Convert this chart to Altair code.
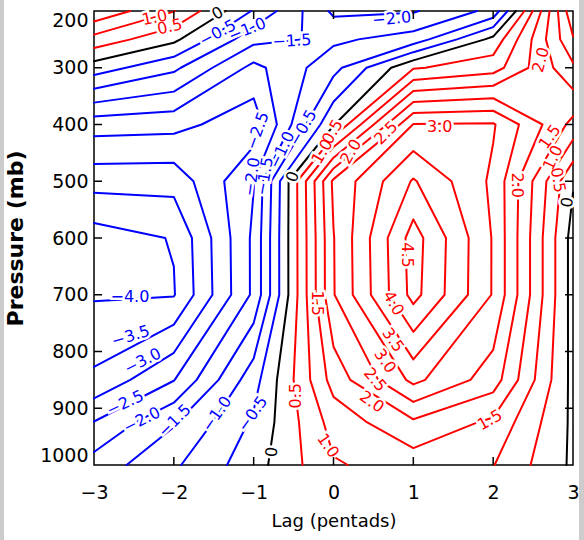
import altair as alt
import numpy as np
import pandas as pd

# ---------------- data ----------------
lags = [-3, -2, -1, 0, 1, 2, 3]
pressures = [1000, 925, 850, 700, 600, 500, 400, 300, 250, 200]

# field value at each pressure level, for lags -3 .. 3
z1000 = [-1.79, -1.08, -0.21, 0.95, 1.23, 1.02, -0.09]
z925 = [-2.48, -1.55, -0.42, 1.20, 1.91, 1.40, -0.10]
z850 = [-3.40, -2.52, -0.70, 1.70, 3.13, 2.25, -0.15]
z700 = [-4.05, -4.03, -1.90, 2.47, 4.67, 2.96, -0.20]
z600 = [-4.25, -3.97, -1.90, 2.48, 4.72, 2.96, -0.20]
z500 = [-3.31, -3.32, -2.02, 2.60, 4.05, 2.90, 0.05]
z400 = [-2.29, -2.34, -2.80, -0.05, 3.02, 3.05, 1.35]
z300 = [-0.24, -0.89, -2.15, -1.17, 0.45, 0.78, 2.40]
z250 = [0.82, 0.12, -1.35, -1.60, -1.28, 0.15, 2.95]
z200 = [1.90, 1.02, -0.55, -2.10, -2.05, -1.36, 3.40]

levels = [-4.0, -3.5, -3.0, -2.5, -2.0, -1.5, -1.0, -0.5, 0.0,
          0.5, 1.0, 1.5, 2.0, 2.5, 3.0, 3.5, 4.0, 4.5]

# contour labels (text, lag, pressure, angle)
lab_text = ["−0.5", "−1.0", "−1.5", "−2.0", "−2.5", "−2.0", "−1.5", "−1.0", "−0.5",
            "−4.0", "−3.5", "−3.0", "−2.5", "−2.0", "−1.5", "−1.0", "−0.5",
            "0", "0", "0", "0",
            "1.0", "0.5", "0.5", "1.0", "2.0", "2.5", "3.0", "2.0", "1.5", "1.0", "0.5",
            "2.0", "4.5", "4.0", "3.5", "3.0", "2.5", "2.0", "1.5", "0.5", "1.0", "1.5"]
lab_lag = [-1.45, -1.08, -0.52, 0.73, -0.95, -1.02, -0.86, -0.645, -0.38,
           -2.55, -2.54, -2.39, -2.61, -2.40, -1.99, -1.46, -1.01,
           -1.45, -0.51, -0.77, 2.93,
           -2.24, -2.05, -0.01, -0.14, 0.22, 0.66, 1.33, 2.60, 2.71, 2.75, 2.81,
           2.30, 0.92, 0.75, 0.745, 0.645, 0.52, 0.48, -0.21, -0.47, -0.07, 1.96]
lab_p = [239, 233, 253, 214, 411, 492, 491, 445, 406,
         704, 773, 817, 891, 921, 922, 910, 910,
         204, 492, 977, 537,
         212, 228, 413, 448, 448, 415, 404, 286, 422, 459, 498,
         507, 630, 715, 780, 817, 850, 889, 715, 878, 966, 921]
lab_angle = [332, 338, 357, 355, 290, 278, 280, 295, 300,
             0, 343, 333, 335, 333, 315, 305, 305,
             330, 290, 275, 280,
             348, 348, 300, 300, 300, 315, 0, 285, 305, 295, 80,
             90, 90, 60, 55, 55, 50, 35, 90, 270, 55, 330]

ytick_vals = [300, 400, 500, 600, 700, 800, 900]
xtick_vals = [-2, -1, 0, 1, 2]


def kind_of(v):
    return "neg" if v < 0 else ("zero" if v == 0 else "pos")


# ---------------- contouring (marching squares) ----------------
Z = np.array([z1000, z925, z850, z700, z600, z500, z400, z300, z250, z200], float)
P = np.array(pressures, float)
L = np.array(lags, float)


def edge_point(key, lev):
    kind, i, j = key
    if kind == "h":
        a, b = Z[i, j], Z[i, j + 1]
        t = (lev - a) / (b - a)
        return L[j] + t * (L[j + 1] - L[j]), P[i]
    a, b = Z[i, j], Z[i + 1, j]
    t = (lev - a) / (b - a)
    return L[j], P[i] + t * (P[i + 1] - P[i])


rows = []
lid = 0
for lev in levels:
    segs = []
    for i in range(len(P) - 1):
        for j in range(len(L) - 1):
            za, zb, zc, zd = Z[i, j], Z[i, j + 1], Z[i + 1, j + 1], Z[i + 1, j]
            ab = [z >= lev for z in (za, zb, zc, zd)]
            eab, ebc, ecd, eda = ("h", i, j), ("v", i, j + 1), ("h", i + 1, j), ("v", i, j)
            edges = [e for e, k1, k2 in ((eab, 0, 1), (ebc, 1, 2), (ecd, 2, 3), (eda, 3, 0))
                     if ab[k1] != ab[k2]]
            if len(edges) == 2:
                segs.append(tuple(edges))
            elif len(edges) == 4:
                centre = (za + zb + zc + zd) / 4 >= lev
                if centre == ab[0]:
                    segs.append((eab, ebc))
                    segs.append((ecd, eda))
                else:
                    segs.append((eda, eab))
                    segs.append((ebc, ecd))
    adj = {}
    for s, (e1, e2) in enumerate(segs):
        adj.setdefault(e1, []).append(s)
        adj.setdefault(e2, []).append(s)
    used = [False] * len(segs)
    starts = [k for k, v in adj.items() if len(v) == 1] + list(adj.keys())
    for st in starts:
        if all(used[s] for s in adj[st]):
            continue
        path = [st]
        cur = st
        while True:
            nxt = None
            for s in adj[cur]:
                if not used[s]:
                    used[s] = True
                    e1, e2 = segs[s]
                    nxt = e2 if e1 == cur else e1
                    break
            if nxt is None:
                break
            path.append(nxt)
            cur = nxt
        for k, key in enumerate(path):
            x, y = edge_point(key, lev)
            rows.append({"line": lid, "order": k, "lag": x, "p": y, "kind": kind_of(lev)})
        lid += 1

lines_df = pd.DataFrame(rows)
labels_df = pd.DataFrame({
    "text": lab_text, "lag": lab_lag, "p": lab_p, "angle": lab_angle,
    "kind": ["neg" if t.startswith("−") else ("zero" if t == "0" else "pos") for t in lab_text],
})

# ---------------- chart ----------------
FONT = "DejaVu Sans"
W, H = 479, 454

xscale = alt.Scale(domain=[-3, 3], nice=False, zero=False)
yscale = alt.Scale(domain=[200, 1000], reverse=True, nice=False, zero=False)
xaxis = alt.Axis(values=lags, format="d", title="Lag (pentads)", grid=False, domain=False,
                 ticks=False, tickSize=0, labelFlush=False, labelPadding=18,
                 labelFont=FONT, labelFontSize=19, labelColor="black",
                 titleFont=FONT, titleFontSize=18, titleFontWeight="normal", titleColor="black",
                 titleX=W / 2, titleY=56, titleAlign="center", titleBaseline="middle")
yaxis = alt.Axis(values=[200, 300, 400, 500, 600, 700, 800, 900, 1000], format="d",
                 title="Pressure (mb)", grid=False, domain=False, ticks=False, tickSize=0,
                 labelFlush=True, labelPadding=6,
                 labelFont=FONT, labelFontSize=19, labelColor="black",
                 titleFont=FONT, titleFontSize=22, titleFontWeight="bold", titleColor="black",
                 titleX=-79, titleY=H / 2, titleAngle=270, titleAlign="center",
                 titleBaseline="middle")
X = alt.X("lag:Q", scale=xscale, axis=xaxis)
Y = alt.Y("p:Q", scale=yscale, axis=yaxis)
colour = alt.Color("kind:N", scale=alt.Scale(domain=["neg", "zero", "pos"],
                                              range=["#0000ff", "#000000", "#ff0000"]),
                   legend=None)

contours = alt.Chart(lines_df).mark_line(strokeWidth=2, strokeCap="round",
                                         strokeJoin="round").encode(
    x=X, y=Y, detail="line:N", order="order:Q", color=colour)

halo = alt.Chart(labels_df).mark_text(font=FONT, fontSize=16, fill="white", stroke="white",
                                      strokeWidth=5).encode(
    x=X, y=Y, text="text:N", angle=alt.Angle("angle:Q", scale=None))
texts = alt.Chart(labels_df).mark_text(font=FONT, fontSize=16).encode(
    x=X, y=Y, text="text:N", angle=alt.Angle("angle:Q", scale=None), color=colour)

ydf = pd.DataFrame({"p": ytick_vals})
xdf = pd.DataFrame({"lag": xtick_vals})
tick_l = alt.Chart(ydf).mark_rule(color="black", strokeWidth=1.5).encode(
    y=Y, x=alt.value(0), x2=alt.value(8))
tick_r = alt.Chart(ydf).mark_rule(color="black", strokeWidth=1.5).encode(
    y=Y, x=alt.value(W - 8), x2=alt.value(W))
tick_b = alt.Chart(xdf).mark_rule(color="black", strokeWidth=1.5).encode(
    x=X, y=alt.value(H - 8), y2=alt.value(H))
tick_t = alt.Chart(xdf).mark_rule(color="black", strokeWidth=1.5).encode(
    x=X, y=alt.value(0), y2=alt.value(8))

one = pd.DataFrame({"a": [0]})
strip_l = alt.Chart(one).mark_rect(color="#cccccc").encode(
    x=alt.value(-94), x2=alt.value(-90), y=alt.value(-11), y2=alt.value(529))
strip_r = alt.Chart(one).mark_rect(color="#cccccc").encode(
    x=alt.value(485), x2=alt.value(490), y=alt.value(-11), y2=alt.value(529))

chart = alt.layer(contours, halo, texts, tick_l, tick_r, tick_b, tick_t, strip_l, strip_r).properties(
    width=W, height=H,
    padding={"left": 94, "top": 11, "right": 11, "bottom": 75},
    autosize=alt.AutoSizeParams(type="none"),
    background="white",
).configure_view(stroke="black", strokeWidth=1.5)

chart.save("out.html", embed_options={"renderer": "svg", "actions": False})
